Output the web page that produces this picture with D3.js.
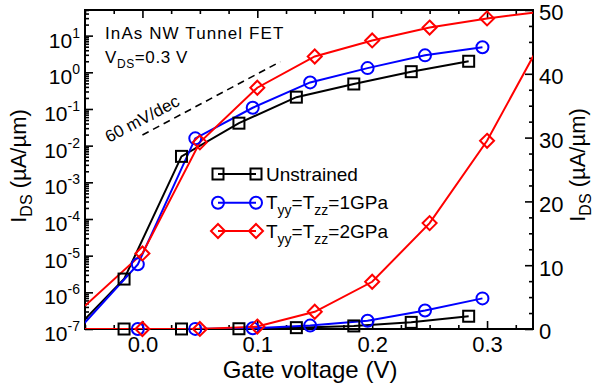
<!DOCTYPE html>
<html>
<head>
<meta charset="utf-8">
<script src="https://cdn.jsdelivr.net/npm/d3@7"></script>
<style>
  body { margin: 0; background: #fff; }
  text { font-family: "Liberation Sans", Arial, Helvetica, sans-serif; fill: #000; }
</style>
</head>
<body>
<svg id="chart" width="594" height="390"></svg>
<script>
// gate voltage (V) and drain current (uA/um) for each curve
// first/last points lie just outside the plotted range (lines run to the frame)
const unstrainedV = [-0.066, -0.016, 0.034, 0.084, 0.134, 0.184, 0.234, 0.284];
const unstrainedI = [5.7e-8, 2.3e-6, 5.1e-3, 0.041, 0.21, 0.48, 1.04, 2.0];

const gpa1V = [-0.054, -0.004, 0.046, 0.096, 0.146, 0.196, 0.246, 0.296];
const gpa1I = [1.1e-7, 5.8e-6, 0.0158, 0.108, 0.53, 1.3, 2.9, 4.8];

const gpa2V = [-0.05, 0.0, 0.05, 0.1, 0.15, 0.2, 0.25, 0.3, 0.35];
const gpa2I = [4.3e-7, 1.15e-5, 0.0123, 0.38, 2.7, 7.4, 16.6, 29.5, 46];

// 60 mV/dec guide
const slopeV = [0.0, 0.12];
const slopeI = [0.0195, 1.95];

const xMajorTicks = [0.0, 0.1, 0.2, 0.3];
const yLogExponents = [-7, -6, -5, -4, -3, -2, -1, 0, 1];
const yLinTicks = [0, 10, 20, 30, 40, 50];

const margin = { top: 10, right: 61, bottom: 61, left: 85 };
const width = 594 - margin.left - margin.right;
const height = 390 - margin.top - margin.bottom;

const svg = d3.select('#chart');
const chart = svg.append('g')
  .attr('transform', `translate(${margin.left},${margin.top})`);

// scales
const xScale = d3.scaleLinear().domain([-0.05, 0.34]).range([0, width]);
const yLog = d3.scaleLog().domain([1e-7, 50]).range([height, 0]);
const yLin = d3.scaleLinear().domain([0, 50]).range([height, 0]);

svg.append('defs').append('clipPath').attr('id', 'plot-clip')
  .append('rect').attr('width', width).attr('height', height);

// minor tick values
const xMinor = d3.range(-0.05, 0.3401, 0.025).filter(v => !xMajorTicks.some(t => Math.abs(t - v) < 1e-6));
const yLogMinor = [];
yLogExponents.forEach(e => {
  for (let k = 2; k <= 9; k++) {
    const v = k * Math.pow(10, e);
    if (v <= 50) yLogMinor.push(v);
  }
});
const yLinMinor = d3.range(0, 50.01, 2.5).filter(v => v % 10 !== 0);

function styleAxis(g) {
  g.select('.domain').remove();
  g.selectAll('line').attr('stroke', '#000').attr('stroke-width', 1.6);
  g.selectAll('text').style('font-size', '22px').attr('fill', '#000');
}

// bottom axis
chart.append('g').attr('transform', `translate(0,${height})`)
  .call(d3.axisBottom(xScale).tickValues(xMajorTicks).tickSizeInner(-8).tickSizeOuter(0)
    .tickPadding(7).tickFormat(d3.format('.1f')))
  .call(styleAxis);
chart.append('g').attr('transform', `translate(0,${height})`)
  .call(d3.axisBottom(xScale).tickValues(xMinor).tickSizeInner(-4).tickSizeOuter(0).tickFormat(''))
  .call(styleAxis);

// top axis
chart.append('g')
  .call(d3.axisTop(xScale).tickValues(xMajorTicks).tickSizeInner(-8).tickSizeOuter(0).tickFormat(''))
  .call(styleAxis);
chart.append('g')
  .call(d3.axisTop(xScale).tickValues(xMinor).tickSizeInner(-4).tickSizeOuter(0).tickFormat(''))
  .call(styleAxis);

// left log axis
chart.append('g')
  .call(d3.axisLeft(yLog).tickValues(yLogExponents.map(e => Math.pow(10, e))).tickSizeInner(-8).tickSizeOuter(0).tickFormat(''))
  .call(styleAxis);
chart.append('g')
  .call(d3.axisLeft(yLog).tickValues(yLogMinor).tickSizeInner(-4).tickSizeOuter(0).tickFormat(''))
  .call(styleAxis);

const logLabels = chart.append('g').selectAll('text')
  .data(yLogExponents)
  .enter().append('text')
  .attr('x', -5)
  .attr('y', d => yLog(Math.pow(10, d)) + 12)
  .attr('text-anchor', 'end');
logLabels.append('tspan').style('font-size', '21px').text('10');
logLabels.append('tspan').style('font-size', '14px').attr('dy', -10).text(d => d < 0 ? '-' + (-d) : d);

// right linear axis
chart.append('g').attr('transform', `translate(${width},0)`)
  .call(d3.axisRight(yLin).tickValues(yLinTicks).tickSizeInner(-8).tickSizeOuter(0).tickPadding(6))
  .call(styleAxis)
  .call(g => g.selectAll('text').attr('dy', '0.45em'));
chart.append('g').attr('transform', `translate(${width},0)`)
  .call(d3.axisRight(yLin).tickValues(yLinMinor).tickSizeInner(-4).tickSizeOuter(0).tickFormat(''))
  .call(styleAxis);

// frame
chart.append('rect')
  .attr('width', width).attr('height', height)
  .attr('fill', 'none').attr('stroke', '#000').attr('stroke-width', 2);

// series
const series = [
  { v: unstrainedV, i: unstrainedI, color: '#000000', marker: 'square' },
  { v: gpa1V, i: gpa1I, color: '#0000ff', marker: 'circle' },
  { v: gpa2V, i: gpa2I, color: '#ff0000', marker: 'diamond' }
];

function drawMarker(g, type, x, y, color) {
  if (type === 'square') {
    g.append('rect').attr('x', x - 5.5).attr('y', y - 5.5).attr('width', 11).attr('height', 11)
      .attr('fill', 'none').attr('stroke', color).attr('stroke-width', 2);
  } else if (type === 'circle') {
    g.append('circle').attr('cx', x).attr('cy', y).attr('r', 6)
      .attr('fill', 'none').attr('stroke', color).attr('stroke-width', 2);
  } else {
    g.append('path').attr('d', `M${x},${y - 7}L${x + 7},${y}L${x},${y + 7}L${x - 7},${y}Z`)
      .attr('fill', 'none').attr('stroke', color).attr('stroke-width', 2);
  }
}

const lines = chart.append('g').attr('clip-path', 'url(#plot-clip)');
const markers = chart.append('g');
const [xMin, xMax] = xScale.domain();

[yLog, yLin].forEach(yScale => {
  series.forEach(s => {
    const pts = s.v.map((v, k) => [v, s.i[k]]);
    const line = d3.line().x(d => xScale(d[0])).y(d => yScale(d[1]));
    lines.append('path').datum(pts)
      .attr('d', line)
      .attr('fill', 'none').attr('stroke', s.color).attr('stroke-width', 2);
    // off-range points only steer the line, they get no marker
    pts.filter(d => d[0] > xMin + 1e-6 && d[0] < xMax).forEach(d => {
      drawMarker(markers, s.marker, xScale(d[0]), yScale(d[1]), s.color);
    });
  });
});

// 60 mV/dec guide line
chart.append('path')
  .datum(slopeV.map((v, k) => [v, slopeI[k]]))
  .attr('d', d3.line().x(d => xScale(d[0])).y(d => yLog(d[1])))
  .attr('fill', 'none').attr('stroke', '#000').attr('stroke-width', 1.6)
  .attr('stroke-dasharray', '7,5');
chart.append('text')
  .attr('transform', `translate(${109 - margin.left},${143 - margin.top}) rotate(-28)`)
  .style('font-size', '17px')
  .text('60 mV/dec');

// title block
svg.append('text').attr('x', 105).attr('y', 39)
  .style('font-size', '17px').style('letter-spacing', '1.1px')
  .text('InAs NW Tunnel FET');
const vds = svg.append('text').attr('x', 105).attr('y', 63)
  .style('font-size', '17px').style('letter-spacing', '0.6px');
vds.append('tspan').text('V');
vds.append('tspan').style('font-size', '12px').attr('dy', 5).text('DS');
vds.append('tspan').attr('dy', -5).text('=0.3 V');

// legend
const legendRows = [
  { y: 174, color: '#000000', marker: 'square', parts: [['Unstrained', 0]] },
  { y: 202.7, color: '#0000ff', marker: 'circle', parts: [['T', 0], ['yy', 1], ['=T', 0], ['zz', 1], ['=1GPa', 0]] },
  { y: 231, color: '#ff0000', marker: 'diamond', parts: [['T', 0], ['yy', 1], ['=T', 0], ['zz', 1], ['=2GPa', 0]] }
];
const legend = svg.append('g');
legendRows.forEach(r => {
  legend.append('line').attr('x1', 218).attr('x2', 256).attr('y1', r.y).attr('y2', r.y)
    .attr('stroke', r.color).attr('stroke-width', 2);
  drawMarker(legend, r.marker, 218, r.y, r.color);
  drawMarker(legend, r.marker, 256, r.y, r.color);
  const t = legend.append('text').attr('x', 266).attr('y', r.y + 6.5).style('font-size', '19px');
  let prev = 0;
  r.parts.forEach(([s, sub]) => {
    t.append('tspan')
      .style('font-size', sub ? '14px' : '19px')
      .attr('dy', sub === prev ? 0 : (sub ? 6 : -6))
      .text(s);
    prev = sub;
  });
});

// axis titles
svg.append('text').attr('x', 310).attr('y', 378).attr('text-anchor', 'middle')
  .style('font-size', '24px').text('Gate voltage (V)');

function yTitle(x, y) {
  const t = svg.append('text')
    .attr('transform', `translate(${x},${y}) rotate(-90)`)
    .attr('text-anchor', 'middle').style('font-size', '22px');
  t.append('tspan').text('I');
  t.append('tspan').style('font-size', '16px').attr('dy', 6).text('DS');
  t.append('tspan').attr('dy', -6).text(' (\u00b5A/\u00b5m)');
}
yTitle(26, 166);
yTitle(585, 165);
</script>
</body>
</html>
